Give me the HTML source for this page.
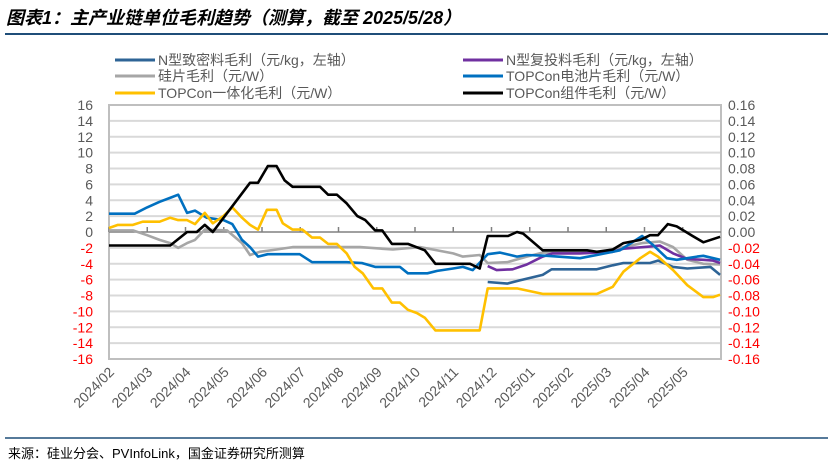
<!DOCTYPE html>
<html><head><meta charset="utf-8">
<style>
body{margin:0;background:#fff;width:831px;height:467px;overflow:hidden;font-family:"Liberation Sans","Noto Sans CJK SC",sans-serif;}
svg{display:block}
</style></head>
<body>
<svg id="chart" width="831" height="467" viewBox="0 0 831 467" xmlns="http://www.w3.org/2000/svg">
<text x="6" y="24" font-size="18" font-weight="bold" font-style="italic" fill="#000" font-family="'Liberation Sans','Noto Sans CJK SC',sans-serif">图表1：主产业链单位毛利趋势（测算，截至 2025/5/28）</text>
<line x1="5" y1="34" x2="828" y2="34" stroke="#1F4E79" stroke-width="2"/>
<g id="legend" font-size="14" fill="#595959"></g>
<g id="grid"></g>
<g id="axes"></g>
<g id="series"></g>
<line x1="5" y1="438" x2="828" y2="438" stroke="#1F4E79" stroke-width="1.5"/>
<text x="8" y="458" font-size="13" fill="#000">来源：硅业分会、PVInfoLink，国金证券研究所测算</text>
</svg>
<script>
const monthLabels=["2024/02","2024/03","2024/04","2024/05","2024/06","2024/07","2024/08","2024/09","2024/10","2024/11","2024/12","2025/01","2025/02","2025/03","2025/04","2025/05"];
const leftTicks=[16,14,12,10,8,6,4,2,0,-2,-4,-6,-8,-10,-12,-14,-16];
const rightTicks=["0.16","0.14","0.12","0.10","0.08","0.06","0.04","0.02","0.00","-0.02","-0.04","-0.06","-0.08","-0.10","-0.12","-0.14","-0.16"];
// weeks since 2024/02 start; values in left-axis units (right axis = value/100)
const polyW=[42.7,44.9,46.3,48.9,49.9,55,56.8,58,61,61.9,63.6,65.2,67.8,68.9];
const polyV=[-6.3,-6.5,-6.1,-5.4,-4.7,-4.7,-4.2,-3.9,-3.9,-3.6,-4.4,-4.6,-4.4,-5.4];
const reW=[42.7,43.7,45.5,47.1,48.9,50,53.1,56.8,58,61.3,62.1,63.6,65.2,67,68.1,68.9];
const reV=[-4.3,-4.8,-4.7,-4.1,-3.1,-2.7,-2.7,-2.5,-2.1,-1.8,-1.7,-2.7,-3.4,-3.5,-3.6,-3.9];
const waferW=[0,2.7,4.3,5.7,6.9,7.8,8.8,9.7,10.8,13.3,15,15.9,17,18.9,20.7,28.3,32,35.1,38.8,39.9,41.8,42.7,44.9,47.1,48.9,55,57.6,60.1,62.1,63.6,65.2,67,68.9];
const waferV=[0.2,0.2,-0.4,-1.0,-1.4,-2.0,-1.4,-1.0,0.3,0.2,-1.4,-2.9,-2.5,-2.2,-1.9,-1.9,-2.2,-1.9,-2.7,-3.1,-2.9,-3.9,-3.8,-3.1,-2.6,-2.6,-2.0,-1.4,-1.2,-1.9,-3.5,-4.0,-4.1];
const cellW=[0,2.9,4.3,5.7,7.1,7.8,8.8,9.7,11,12.9,13.9,15,15.9,16.8,17.9,21.5,22.9,26.8,28.5,30,32.8,33.7,35.9,37,38.8,39.9,41,42.7,44.1,46,47.1,49.4,53.1,55,57.6,60.1,61.3,62.9,64,65.2,66.3,67,68.9];
const cellV=[2.3,2.3,3.1,3.8,4.4,4.7,2.4,2.7,1.8,1.5,1.0,-1.0,-1.9,-3.1,-2.8,-2.8,-3.8,-3.8,-3.9,-4.4,-4.4,-5.2,-5.2,-4.9,-4.6,-4.4,-4.8,-2.8,-2.6,-3.1,-2.9,-3.0,-3.3,-2.9,-2.3,-0.5,-1.6,-3.3,-3.5,-3.3,-3.1,-3.0,-3.5];
const intW=[0,1,2.7,3.8,5.7,6.9,7.8,8.8,9.7,10.8,11.7,12.9,13.9,15,15.9,16.8,17.8,18.9,19.6,20.7,21.8,22.9,23.8,24.7,25.7,26.8,27.7,28.6,29.8,30.8,31.9,32.8,33.7,34.7,35.6,36.8,41.8,42.7,46,48.9,55,56.8,58,59.9,61,61.9,63.6,65.2,67,68.1,68.9];
const intV=[0.5,0.9,0.9,1.3,1.3,1.8,1.5,1.5,1.0,2.4,1.1,2.0,3.1,1.8,0.9,0.3,2.8,2.8,1.1,0.3,0.3,-0.7,-0.7,-1.5,-1.5,-2.7,-4.4,-5.2,-7.1,-7.1,-8.9,-8.9,-9.8,-10.2,-10.8,-12.4,-12.4,-7.1,-7.1,-7.8,-7.8,-6.9,-5.0,-3.3,-2.5,-3.1,-4.8,-6.7,-8.2,-8.2,-7.9];
const modW=[0,6.9,8.8,9.9,10.8,11.7,15.9,16.8,17.9,18.9,19.8,20.7,23.8,24.7,25.7,26.8,28,28.9,30,30.8,31.9,33.7,35.6,36.8,40.7,41.8,42.7,45,46,46.7,48.9,53.9,55,56.8,58,59.9,61,61.9,63,64,65.2,65.8,67,68.9];
const modV=[-1.7,-1.7,0,0,0.9,0,6.2,6.2,8.3,8.3,6.5,5.7,5.7,4.7,4.7,3.6,2.0,1.5,0.2,0.2,-1.5,-1.5,-2.3,-4.0,-4.0,-4.6,-0.5,-0.5,0,-0.2,-2.3,-2.3,-2.5,-2.2,-1.4,-1.0,-0.4,-0.4,1.0,0.7,-0.1,-0.5,-1.3,-0.6];

const NS="http://www.w3.org/2000/svg";
const L=109,R=721,T=105,B=359,WEEKS=69;
const xs=w=>L+w*(R-L)/WEEKS;
const ys=v=>T+(16-v)*(B-T)/32;
function mk(tag,attrs,parent,text){const e=document.createElementNS(NS,tag);for(const k in attrs)e.setAttribute(k,attrs[k]);if(text!==undefined)e.textContent=text;parent.appendChild(e);return e;}
const grid=document.getElementById('grid'),axes=document.getElementById('axes'),ser=document.getElementById('series'),leg=document.getElementById('legend');

leftTicks.forEach((v,i)=>{
  if(v!==0){const g=mk('line',{x1:L,x2:R,y1:ys(v),y2:ys(v),stroke:'#D9D9D9','stroke-width':2},grid);
  
  }
  const t=mk('text',{x:93,y:ys(v)+5,'text-anchor':'end','font-size':14,fill:v<0?'#FF0000':'#595959'},axes,String(v));
  
  
  const t2=mk('text',{x:728,y:ys(v)+5,'font-size':14,fill:v<0?'#FF0000':'#595959'},axes,rightTicks[i]);
  
  
});
const fr=mk('rect',{x:L,y:T,width:R-L,height:B-T,fill:'none',stroke:'#BFBFBF','stroke-width':2},axes);


const zl=mk('line',{x1:L,x2:R,y1:ys(0),y2:ys(0),stroke:'#808080','stroke-width':1.5},axes);


monthLabels.forEach((m,k)=>{
  const x=L+k*(R-L)/16;
  const tk=mk('line',{x1:x,x2:x,y1:ys(0)-5,y2:ys(0),stroke:'#808080','stroke-width':1.5},axes);
  
  
  const t=mk('text',{x:x+6,y:373,'text-anchor':'end','font-size':14,fill:'#595959',transform:`rotate(-45 ${x+6} 373)`},axes,m);
  
  
});
const seriesDefs=[
 ['wafer-margin-line',waferW,waferV,'#A6A6A6'],
 ['polysilicon-margin-line',polyW,polyV,'#2E6496'],
 ['recharge-margin-line',reW,reV,'#7030A0'],
 ['cell-margin-line',cellW,cellV,'#0070C0'],
 ['integrated-margin-line',intW,intV,'#FFC000'],
 ['module-margin-line',modW,modV,'#000000']];
seriesDefs.forEach(([n,w,v,c])=>{
  const d=w.map((wi,i)=>(i?'L':'M')+xs(wi).toFixed(1)+' '+ys(v[i]).toFixed(1)).join(' ');
  const p=mk('path',{d:d,fill:'none',stroke:c,'stroke-width':2.6,'stroke-linejoin':'round'},ser);
  
  
});
const legItems=[
 ['legend-polysilicon',115,60,'#2E6496','N型致密料毛利（元/kg，左轴）'],
 ['legend-recharge',463,60,'#7030A0','N型复投料毛利（元/kg，左轴）'],
 ['legend-wafer',115,76,'#A6A6A6','硅片毛利（元/W）'],
 ['legend-cell',463,76,'#0070C0','TOPCon电池片毛利（元/W）'],
 ['legend-integrated',115,93,'#FFC000','TOPCon一体化毛利（元/W）'],
 ['legend-module',463,93,'#000000','TOPCon组件毛利（元/W）']];
legItems.forEach(([n,x,y,c,t])=>{
  const g=mk('g',{},leg);
  
  
  mk('line',{x1:x,x2:x+40,y1:y,y2:y,stroke:c,'stroke-width':3},g);
  mk('text',{x:x+43,y:y+5,'font-size':14,fill:'#595959'},g,t);
});
</script>
</body></html>
